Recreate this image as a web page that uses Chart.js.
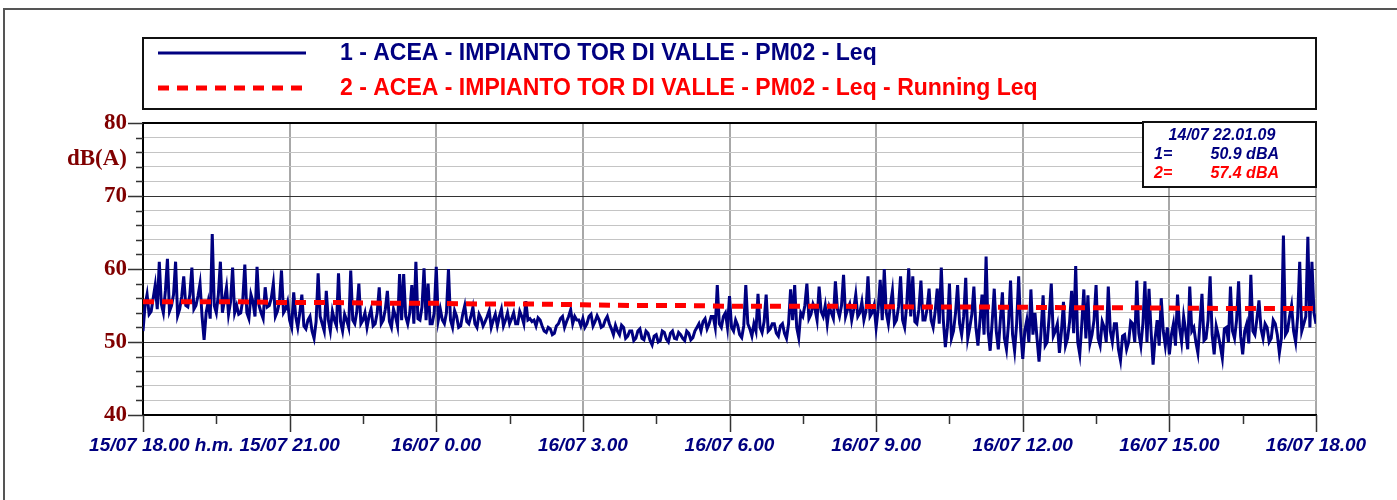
<!DOCTYPE html>
<html>
<head>
<meta charset="utf-8">
<script src="https://cdn.jsdelivr.net/npm/chart.js@4.4.1/dist/chart.umd.min.js"></script>
<style>
    html, body { margin: 0; padding: 0; background: #fff; }
    #wrap { width: 1397px; height: 500px; position: relative; }
</style>
</head>
<body>
<div id="wrap"><canvas id="leq-chart"></canvas></div>
<script>
// x axis: minutes from 15/07 18.00, one label every 3 hours
const xLabels = ['15/07 18.00 h.m.', '15/07 21.00', '16/07 0.00', '16/07 3.00', '16/07 6.00',
    '16/07 9.00', '16/07 12.00', '16/07 15.00', '16/07 18.00'];
const yLabelValues = [40, 50, 60, 70, 80];
const yUnit = 'dB(A)';
const seriesNames = [
    '1 - ACEA - IMPIANTO TOR DI VALLE - PM02 - Leq',
    '2 - ACEA - IMPIANTO TOR DI VALLE - PM02 - Leq - Running Leq'
];
const cursorInfo = ['14/07 22.01.09', '1=', '50.9 dBA', '2=', '57.4 dBA'];

// Leq, one value every 2.5 minutes (one row = one hour, 18.00 -> 18.00)
const leqStep = 2.5;
const leqValues = [
    51.5, 55.0, 56.5, 53.8, 54.2, 56.0, 57.8, 54.5, 61.0, 55.2, 54.0, 57.0, 61.4, 54.2, 55.0, 56.5, 61.0, 53.6, 54.5, 56.2, 59.0, 55.0, 54.8, 56.5,
    60.2, 54.5, 55.0, 56.3, 58.0, 53.5, 50.3, 54.0, 55.5, 53.2, 64.8, 55.0, 54.0, 56.5, 61.0, 54.0, 55.8, 57.5, 53.8, 55.5, 60.2, 54.0, 55.0, 53.8,
    54.0, 55.8, 60.6, 54.0, 53.2, 56.5, 55.5, 53.5, 60.3, 55.0, 54.0, 53.2, 57.5, 54.8, 55.0, 56.0, 58.0, 53.5, 54.2, 55.5, 59.8, 54.0, 54.5, 55.5,
    53.0, 52.0, 56.8, 53.5, 52.0, 54.0, 56.5, 52.2, 51.8, 53.0, 53.5, 51.5, 50.5, 52.8, 59.4, 53.5, 52.5, 51.5, 57.0, 53.0, 51.5, 54.2, 53.0, 52.2,
    59.4, 52.8, 51.5, 53.8, 53.0, 52.0, 59.8, 53.0, 52.5, 54.2, 58.0, 52.5, 53.0, 54.0, 52.0, 53.5, 54.5, 52.2, 52.5, 54.0, 57.5, 52.5, 53.0, 54.5,
    57.0, 52.8, 52.0, 54.5, 53.5, 52.2, 59.3, 53.0, 59.3, 53.5, 52.5, 54.0, 57.8, 52.5, 61.0, 53.2, 53.0, 54.8, 60.1, 53.0, 58.0, 52.5, 52.5, 54.0,
    60.3, 53.0, 54.5, 53.0, 52.5, 54.0, 60.0, 53.0, 52.0, 54.3, 53.5, 52.0, 52.2, 53.8, 55.0, 52.8, 52.5, 53.5, 54.8, 52.5, 52.0, 53.8, 53.2, 52.2,
    52.8, 53.5, 54.3, 52.0, 53.0, 53.8, 52.2, 53.5, 54.5, 52.2, 53.0, 54.0, 52.5, 53.2, 54.0, 52.5, 52.5, 54.2, 53.5, 52.5, 55.6, 53.0, 53.2, 52.8,
    53.0, 52.2, 53.3, 53.0, 52.2, 51.5, 51.3, 52.0, 51.8, 51.0, 51.2, 52.2, 52.5, 53.2, 53.5, 52.0, 52.8, 53.5, 54.4, 52.5, 53.5, 53.0, 53.0, 52.2,
    53.2, 52.0, 52.5, 53.5, 53.8, 52.2, 52.8, 53.6, 53.0, 52.0, 52.2, 53.0, 53.5, 52.5, 51.8, 51.0, 52.3, 51.5, 51.0, 52.3, 52.0, 50.5, 50.8, 51.5,
    51.5, 50.2, 50.5, 51.5, 51.8, 50.5, 50.3, 51.5, 51.2, 50.2, 49.6, 50.8, 51.0, 50.0, 50.2, 51.5, 51.3, 50.4, 50.0, 51.2, 51.5, 50.5, 50.4, 51.3,
    51.0, 50.5, 50.2, 51.5, 51.2, 50.3, 50.6, 51.5, 52.0, 52.5, 51.5, 52.8, 53.2, 51.8, 52.5, 53.5, 53.5, 52.0, 57.8, 52.5, 52.0, 53.5, 54.0, 52.0,
    56.3, 52.0, 51.5, 53.0, 52.3, 51.0, 50.6, 52.2, 57.8, 52.5, 51.8, 50.8, 52.5, 51.5, 56.6, 52.0, 51.3, 52.8, 56.5, 51.5, 51.8, 52.5, 52.5, 51.2,
    50.8, 52.2, 52.5, 51.2, 50.5, 52.5, 57.2, 53.0, 57.8, 52.0, 50.6, 54.0, 53.5, 55.0, 58.0, 53.2, 53.8, 55.2, 54.5, 53.0, 57.6, 54.2, 53.5, 55.0,
    52.5, 54.8, 54.0, 53.2, 58.3, 54.5, 53.5, 55.0, 59.2, 53.5, 54.5, 55.2, 53.0, 54.5, 56.5, 53.5, 54.0, 55.5, 53.0, 54.2, 59.0, 53.5, 54.0, 55.0,
    52.0, 54.5, 58.5, 53.0, 60.0, 54.0, 52.5, 55.0, 57.0, 52.5, 53.0, 54.8, 59.0, 53.0, 52.0, 55.0, 60.1, 53.5, 59.0, 52.8, 52.5, 54.5, 58.4, 53.0,
    53.0, 54.5, 57.3, 53.0, 52.0, 54.2, 57.3, 52.5, 60.2, 53.0, 49.3, 52.0, 58.0, 50.5, 51.5, 54.0, 57.8, 52.5, 51.0, 53.5, 58.8, 50.5, 52.0, 53.8,
    57.6, 52.0, 49.5, 53.0, 56.5, 51.0, 61.7, 51.5, 48.8, 52.8, 57.3, 51.5, 49.0, 53.0, 56.8, 50.5, 49.0, 52.5, 58.4, 51.0, 48.8, 52.5, 59.0, 51.5,
    47.7, 51.5, 53.0, 50.0, 57.2, 51.0, 54.0, 50.5, 47.3, 51.5, 56.4, 49.5, 50.0, 53.5, 58.0, 50.8, 51.5, 52.5, 48.5, 51.5, 55.5, 49.5, 50.5, 52.8,
    57.0, 51.2, 60.4, 50.0, 48.3, 52.5, 57.2, 50.5, 56.4, 49.8, 51.0, 53.0, 57.8, 50.5, 49.5, 52.8, 52.0, 50.0, 57.6, 51.5, 50.0, 52.5, 52.5, 49.0,
    47.5, 50.8, 51.0, 49.0, 50.0, 52.8, 52.5, 50.0, 58.4, 51.2, 49.5, 52.5, 58.3, 50.0, 57.3, 51.5, 46.9, 50.5, 53.0, 49.5, 56.0, 51.5, 49.5, 52.0,
    48.3, 51.0, 52.5, 49.5, 56.5, 52.0, 50.0, 53.5, 51.5, 49.0, 57.6, 51.5, 52.0, 50.0, 48.5, 52.5, 56.6, 50.2, 50.5, 53.0, 59.0, 51.0, 48.3, 52.2,
    51.0, 49.5, 47.8, 51.8, 52.0, 50.0, 57.6, 51.5, 50.5, 53.0, 58.3, 50.8, 48.3, 51.5, 52.5, 49.8, 59.2, 51.5, 51.0, 53.2, 55.7, 51.8, 50.5, 52.5,
    52.0, 50.0, 50.5, 53.0, 52.5, 51.0, 48.5, 50.5, 64.6, 51.0, 51.5, 53.5, 55.0, 51.5, 50.0, 53.5, 61.0, 51.5, 52.5, 53.5, 64.4, 52.0, 61.0, 54.0,
    52.5
];
// running Leq, one value every hour
const runningValues = [55.5, 55.5, 55.5, 55.4, 55.4, 55.3, 55.3, 55.2, 55.2, 55.1, 55.0, 55.0, 54.9,
    54.9, 54.9, 54.85, 54.8, 54.8, 54.75, 54.7, 54.7, 54.65, 54.6, 54.6, 54.6];

const NAVY = '#000080';
const RED = '#ff0000';
const DARKRED = '#800000';
const SANS = "'Liberation Sans', Arial, sans-serif";
const SERIF = "'Liberation Serif', 'Times New Roman', serif";

const framePlugin = {
    id: 'frame',
    beforeDraw(chart) {
        const c = chart.ctx;
        c.save();
        c.strokeStyle = '#555';
        c.lineWidth = 2;
        c.strokeRect(4, 9, chart.width + 10, chart.height + 10);
        c.restore();
    }
};

const tickMarks = {
    id: 'tickMarks',
    afterDraw(chart) {
        const c = chart.ctx, xs = chart.scales.x, ys = chart.scales.y;
        c.save();
        c.strokeStyle = '#333';
        c.lineWidth = 1.5;
        c.beginPath();
        ys.ticks.forEach(t => {
            if (t.value === 75) return;
            const py = Math.round(ys.getPixelForValue(t.value)) + 0.5;
            const len = t.value % 10 === 0 ? 15 : 7;
            c.moveTo(ys.right - len, py);
            c.lineTo(ys.right, py);
        });
        xs.ticks.forEach(t => {
            const px = Math.round(xs.getPixelForValue(t.value)) + 0.5;
            const len = t.value % 180 === 0 ? 17 : 9;
            c.moveTo(px, xs.top);
            c.lineTo(px, xs.top + len);
        });
        c.stroke();
        c.restore();
    }
};

const legendBox = {
    id: 'legendBox',
    afterDraw(chart) {
        const c = chart.ctx, a = chart.chartArea;
        const top = 38, bottom = 109;
        c.save();
        c.strokeStyle = '#111';
        c.lineWidth = 2;
        c.strokeRect(a.left, top, a.right - a.left, bottom - top);
        const rows = [53, 88];
        chart.data.datasets.forEach((ds, i) => {
            c.strokeStyle = ds.borderColor;
            c.lineWidth = ds.borderWidth;
            c.setLineDash(ds.borderDash || []);
            c.beginPath();
            c.moveTo(a.left + 15, rows[i]);
            c.lineTo(a.left + 163, rows[i]);
            c.stroke();
            c.setLineDash([]);
            c.fillStyle = ds.borderColor;
            c.font = 'bold 23px ' + SANS;
            c.textBaseline = 'middle';
            c.fillText(ds.label, 340, rows[i] + 1);
        });
        c.restore();
    }
};

const infoBox = {
    id: 'infoBox',
    afterDraw(chart) {
        const c = chart.ctx, a = chart.chartArea;
        const l = a.right - 173, t = a.top - 1, w = 173, h = 65;
        c.save();
        c.fillStyle = '#fff';
        c.fillRect(l, t, w, h);
        c.strokeStyle = '#111';
        c.lineWidth = 2;
        c.strokeRect(l, t, w, h);
        c.font = 'italic bold 16px ' + SANS;
        c.textBaseline = 'middle';
        c.fillStyle = NAVY;
        c.textAlign = 'center';
        c.fillText(cursorInfo[0], l + 79, t + 14);
        c.textAlign = 'left';
        c.fillText(cursorInfo[1], l + 11, t + 33);
        c.textAlign = 'right';
        c.fillText(cursorInfo[2], l + 136, t + 33);
        c.fillStyle = RED;
        c.textAlign = 'left';
        c.fillText(cursorInfo[3], l + 11, t + 52);
        c.textAlign = 'right';
        c.fillText(cursorInfo[4], l + 136, t + 52);
        c.restore();
    }
};

const ctx = document.getElementById('leq-chart');

const leqChart = new Chart(ctx, {
    type: 'line',
    data: {
        datasets: [{
            label: seriesNames[0],
            data: leqValues.map((v, i) => ({ x: i * leqStep, y: v })),
            borderColor: NAVY,
            borderWidth: 3,
            pointRadius: 0,
            tension: 0,
            order: 1
        }, {
            label: seriesNames[1],
            data: runningValues.map((v, i) => ({ x: i * 60, y: v })),
            borderColor: RED,
            borderWidth: 5,
            borderDash: [11, 8],
            pointRadius: 0,
            tension: 0,
            order: 0
        }]
    },
    options: {
        responsive: true,
        maintainAspectRatio: false,
        animation: false,
        devicePixelRatio: 1,
        layout: { padding: { top: 123, right: 81, bottom: 0, left: 0 } },
        plugins: {
            legend: { display: false },
            tooltip: { enabled: false }
        },
        scales: {
            x: {
                type: 'linear',
                min: 0,
                max: 1440,
                afterFit: s => { s.height = 85; },
                afterBuildTicks: s => {
                    const t = [];
                    for (let v = 0; v <= 1440; v += 90) t.push({ value: v });
                    s.ticks = t;
                },
                border: { color: '#000', width: 2 },
                grid: {
                    color: c => c.tick && c.tick.value % 180 === 0 ? '#a8a8a8' : 'transparent',
                    lineWidth: 2,
                    tickLength: 17,
                    tickColor: 'transparent'
                },
                ticks: {
                    autoSkip: false,
                    maxRotation: 0,
                    padding: 2,
                    color: NAVY,
                    font: { family: SANS, size: 19, weight: 'bold', style: 'italic' },
                    callback: v => {
                        if (v % 180 !== 0) return '';
                        const lab = xLabels[v / 180];
                        return v === 0 ? '       ' + lab : lab;
                    }
                }
            },
            y: {
                min: 40,
                max: 80,
                afterFit: s => { s.width = 143; },
                afterBuildTicks: s => {
                    const t = [];
                    for (let v = 40; v <= 80; v += 2) t.push({ value: v });
                    t.push({ value: 75 });
                    t.sort((p, q) => p.value - q.value);
                    s.ticks = t;
                },
                border: { color: '#000', width: 2 },
                grid: {
                    color: c => {
                        const v = c.tick && c.tick.value;
                        if (v === 75) return 'transparent';
                        if (v === 40 || v === 80) return '#000';
                        return v % 10 === 0 ? '#333' : '#c4c4c4';
                    },
                    lineWidth: c => (c.tick && (c.tick.value === 80)) ? 2 : 1,
                    tickLength: 15,
                    tickColor: 'transparent'
                },
                ticks: {
                    autoSkip: false,
                    padding: 1,
                    color: DARKRED,
                    font: { family: SERIF, size: 23, weight: 'bold' },
                    callback: v => v === 75 ? yUnit : (yLabelValues.includes(v) ? String(v) : '')
                }
            }
        }
    },
    plugins: [framePlugin, tickMarks, legendBox, infoBox]
});
</script>
</body>
</html>
